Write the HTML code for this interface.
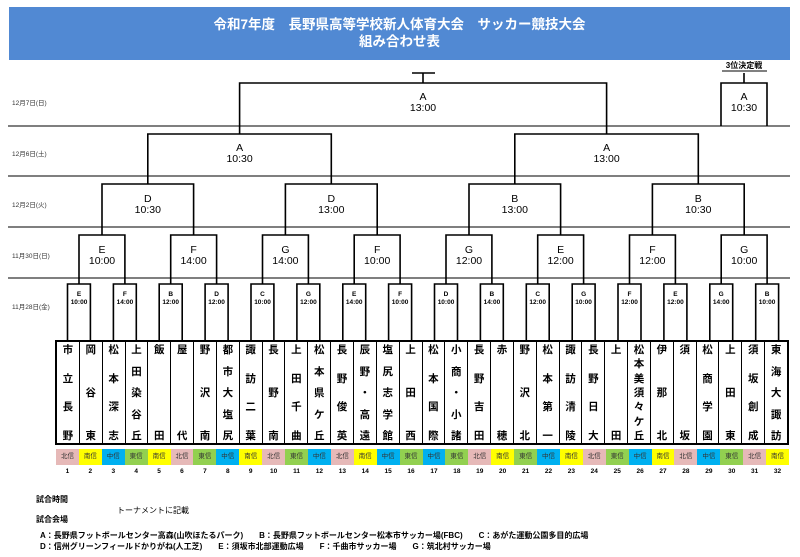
<!DOCTYPE html>
<html><head><meta charset="utf-8"><style>
body{margin:0;background:#fff;width:800px;height:557px;position:relative;overflow:hidden;font-family:"Liberation Sans","Noto Sans CJK JP",sans-serif;}
.hdr{position:absolute;left:9px;top:7px;width:781px;height:53px;background:#5189d3;color:#fff;font-weight:bold;font-size:13.5px;text-align:center;line-height:17px;padding-top:9px;box-sizing:border-box;}
.teams{position:absolute;left:55px;top:340px;width:734px;height:105px;border:2px solid #000;box-sizing:border-box;display:flex;}
.teams div{flex:1;border-left:1px solid #000;display:flex;flex-direction:column;justify-content:space-between;align-items:center;font-size:10.5px;font-weight:bold;line-height:12px;padding:2px 0 1px;}
.teams div:first-child{border-left:none}
.reg{position:absolute;left:56px;top:449px;width:733px;height:16px;display:flex;}
.reg div{flex:1;font-size:6.5px;text-align:center;line-height:16px;color:#333}
.n{background:#e6b9b8}.s{background:#ffff00}.c{background:#00b0f0}.e{background:#92d050}
.num{position:absolute;left:56px;top:468px;width:733px;display:flex;}
.num div{flex:1;font-size:6.5px;font-weight:bold;text-align:center}
.t{position:absolute;font-size:8px;font-weight:bold;white-space:nowrap}
</style></head><body>
<div class="hdr">令和7年度　長野県高等学校新人体育大会　サッカー競技大会<br>組み合わせ表</div>
<svg width="800" height="557" style="position:absolute;left:0;top:0" font-family="Liberation Sans, Noto Sans CJK JP, sans-serif">
<g stroke="#555" stroke-width="1.5"><line x1="8" y1="126" x2="790" y2="126"/><line x1="8" y1="176" x2="790" y2="176"/><line x1="8" y1="227" x2="790" y2="227"/><line x1="8" y1="278" x2="790" y2="278"/></g>
<g font-size="6.5" fill="#333"><text x="12" y="105">12月7日(日)</text><text x="12" y="156">12月6日(土)</text><text x="12" y="207">12月2日(火)</text><text x="12" y="258">11月30日(日)</text><text x="12" y="309">11月28日(金)</text></g>
<g stroke="#000" stroke-width="1.6" fill="none">
<path d="M67.5 341V284H90.4V341M113.4 341V284H136.3V341M159.2 341V284H182.2V341M205.1 341V284H228.1V341M251 341V284H273.9V341M296.9 341V284H319.8V341M342.8 341V284H365.7V341M388.6 341V284H411.6V341M434.5 341V284H457.5V341M480.4 341V284H503.3V341M526.3 341V284H549.2V341M572.2 341V284H595.1V341M618 341V284H641V341M663.9 341V284H686.9V341M709.8 341V284H732.7V341M755.7 341V284H778.6V341"/>
<path d="M79 284V235H124.9V284M170.7 284V235H216.6V284M262.5 284V235H308.4V284M354.2 284V235H400.1V284M446 284V235H491.9V284M537.7 284V235H583.6V284M629.5 284V235H675.4V284M721.2 284V235H767.1V284"/>
<path d="M102 235V184H193.6V235M285.4 235V184H377.2V235M469 235V184H560.6V235M652.4 235V184H744.2V235"/>
<path d="M147.8 184V134H331.3V184M514.8 184V134H698.3V184"/>
<path d="M239.6 134V83H606.6V134M423 83V73M412 73H435"/>
<path d="M721 126V83H767V126M744 83V73"/>
</g>
<g font-size="6.5" font-weight="bold" text-anchor="middle">
<text x="79" y="296">E</text><text x="79" y="304">10:00</text>
<text x="124.9" y="296">F</text><text x="124.9" y="304">14:00</text>
<text x="170.7" y="296">B</text><text x="170.7" y="304">12:00</text>
<text x="216.6" y="296">D</text><text x="216.6" y="304">12:00</text>
<text x="262.5" y="296">C</text><text x="262.5" y="304">10:00</text>
<text x="308.4" y="296">G</text><text x="308.4" y="304">12:00</text>
<text x="354.2" y="296">E</text><text x="354.2" y="304">14:00</text>
<text x="400.1" y="296">F</text><text x="400.1" y="304">10:00</text>
<text x="446" y="296">D</text><text x="446" y="304">10:00</text>
<text x="491.9" y="296">B</text><text x="491.9" y="304">14:00</text>
<text x="537.7" y="296">C</text><text x="537.7" y="304">12:00</text>
<text x="583.6" y="296">G</text><text x="583.6" y="304">10:00</text>
<text x="629.5" y="296">F</text><text x="629.5" y="304">12:00</text>
<text x="675.4" y="296">E</text><text x="675.4" y="304">12:00</text>
<text x="721.2" y="296">G</text><text x="721.2" y="304">14:00</text>
<text x="767.1" y="296">B</text><text x="767.1" y="304">10:00</text>
</g>
<g font-size="10.5" text-anchor="middle">
<text x="102" y="253">E</text><text x="102" y="264">10:00</text>
<text x="193.6" y="253">F</text><text x="193.6" y="264">14:00</text>
<text x="285.4" y="253">G</text><text x="285.4" y="264">14:00</text>
<text x="377.2" y="253">F</text><text x="377.2" y="264">10:00</text>
<text x="469" y="253">G</text><text x="469" y="264">12:00</text>
<text x="560.6" y="253">E</text><text x="560.6" y="264">12:00</text>
<text x="652.4" y="253">F</text><text x="652.4" y="264">12:00</text>
<text x="744.2" y="253">G</text><text x="744.2" y="264">10:00</text>
<text x="147.8" y="202">D</text><text x="147.8" y="213">10:30</text>
<text x="331.3" y="202">D</text><text x="331.3" y="213">13:00</text>
<text x="514.8" y="202">B</text><text x="514.8" y="213">13:00</text>
<text x="698.3" y="202">B</text><text x="698.3" y="213">10:30</text>
<text x="239.6" y="151">A</text><text x="239.6" y="162">10:30</text>
<text x="606.6" y="151">A</text><text x="606.6" y="162">13:00</text>
<text x="423" y="100">A</text><text x="423" y="111">13:00</text>
<text x="744" y="100">A</text><text x="744" y="111">10:30</text>
</g>
<text x="744" y="68" font-size="8" font-weight="bold" text-anchor="middle">3位決定戦</text>
<line x1="722" y1="71" x2="767" y2="71" stroke="#000" stroke-width="1"/>
</svg>
<div class="teams">
<div><span>市</span><span>立</span><span>長</span><span>野</span></div>
<div><span>岡</span><span>谷</span><span>東</span></div>
<div><span>松</span><span>本</span><span>深</span><span>志</span></div>
<div><span>上</span><span>田</span><span>染</span><span>谷</span><span>丘</span></div>
<div><span>飯</span><span>田</span></div>
<div><span>屋</span><span>代</span></div>
<div><span>野</span><span>沢</span><span>南</span></div>
<div><span>都</span><span>市</span><span>大</span><span>塩</span><span>尻</span></div>
<div><span>諏</span><span>訪</span><span>二</span><span>葉</span></div>
<div><span>長</span><span>野</span><span>南</span></div>
<div><span>上</span><span>田</span><span>千</span><span>曲</span></div>
<div><span>松</span><span>本</span><span>県</span><span>ケ</span><span>丘</span></div>
<div><span>長</span><span>野</span><span>俊</span><span>英</span></div>
<div><span>辰</span><span>野</span><span>・</span><span>高</span><span>遠</span></div>
<div><span>塩</span><span>尻</span><span>志</span><span>学</span><span>館</span></div>
<div><span>上</span><span>田</span><span>西</span></div>
<div><span>松</span><span>本</span><span>国</span><span>際</span></div>
<div><span>小</span><span>商</span><span>・</span><span>小</span><span>諸</span></div>
<div><span>長</span><span>野</span><span>吉</span><span>田</span></div>
<div><span>赤</span><span>穂</span></div>
<div><span>野</span><span>沢</span><span>北</span></div>
<div><span>松</span><span>本</span><span>第</span><span>一</span></div>
<div><span>諏</span><span>訪</span><span>清</span><span>陵</span></div>
<div><span>長</span><span>野</span><span>日</span><span>大</span></div>
<div><span>上</span><span>田</span></div>
<div><span>松</span><span>本</span><span>美</span><span>須</span><span>々</span><span>ケ</span><span>丘</span></div>
<div><span>伊</span><span>那</span><span>北</span></div>
<div><span>須</span><span>坂</span></div>
<div><span>松</span><span>商</span><span>学</span><span>園</span></div>
<div><span>上</span><span>田</span><span>東</span></div>
<div><span>須</span><span>坂</span><span>創</span><span>成</span></div>
<div><span>東</span><span>海</span><span>大</span><span>諏</span><span>訪</span></div>
</div>
<div class="reg">
<div class="n">北信</div><div class="s">南信</div><div class="c">中信</div><div class="e">東信</div><div class="s">南信</div><div class="n">北信</div><div class="e">東信</div><div class="c">中信</div>
<div class="s">南信</div><div class="n">北信</div><div class="e">東信</div><div class="c">中信</div><div class="n">北信</div><div class="s">南信</div><div class="c">中信</div><div class="e">東信</div>
<div class="c">中信</div><div class="e">東信</div><div class="n">北信</div><div class="s">南信</div><div class="e">東信</div><div class="c">中信</div><div class="s">南信</div><div class="n">北信</div>
<div class="e">東信</div><div class="c">中信</div><div class="s">南信</div><div class="n">北信</div><div class="c">中信</div><div class="e">東信</div><div class="n">北信</div><div class="s">南信</div>
</div>
<div class="num"><div>1</div><div>2</div><div>3</div><div>4</div><div>5</div><div>6</div><div>7</div><div>8</div><div>9</div><div>10</div><div>11</div><div>12</div><div>13</div><div>14</div><div>15</div><div>16</div><div>17</div><div>18</div><div>19</div><div>20</div><div>21</div><div>22</div><div>23</div><div>24</div><div>25</div><div>26</div><div>27</div><div>28</div><div>29</div><div>30</div><div>31</div><div>32</div></div>
<div class="t" style="left:36px;top:494px">試合時間</div>
<div class="t" style="left:36px;top:514px">試合会場</div>
<div class="t" style="left:117px;top:505px;font-weight:normal">トーナメントに記載</div>
<div class="t" style="left:40px;top:530px">A：長野県フットボールセンター高森(山吹ほたるパーク)　　B：長野県フットボールセンター松本市サッカー場(FBC)　　C：あがた運動公園多目的広場</div>
<div class="t" style="left:40px;top:541px">D：信州グリーンフィールドかりがね(人工芝)　　E：須坂市北部運動広場　　F：千曲市サッカー場　　G：筑北村サッカー場</div>
</body></html>
